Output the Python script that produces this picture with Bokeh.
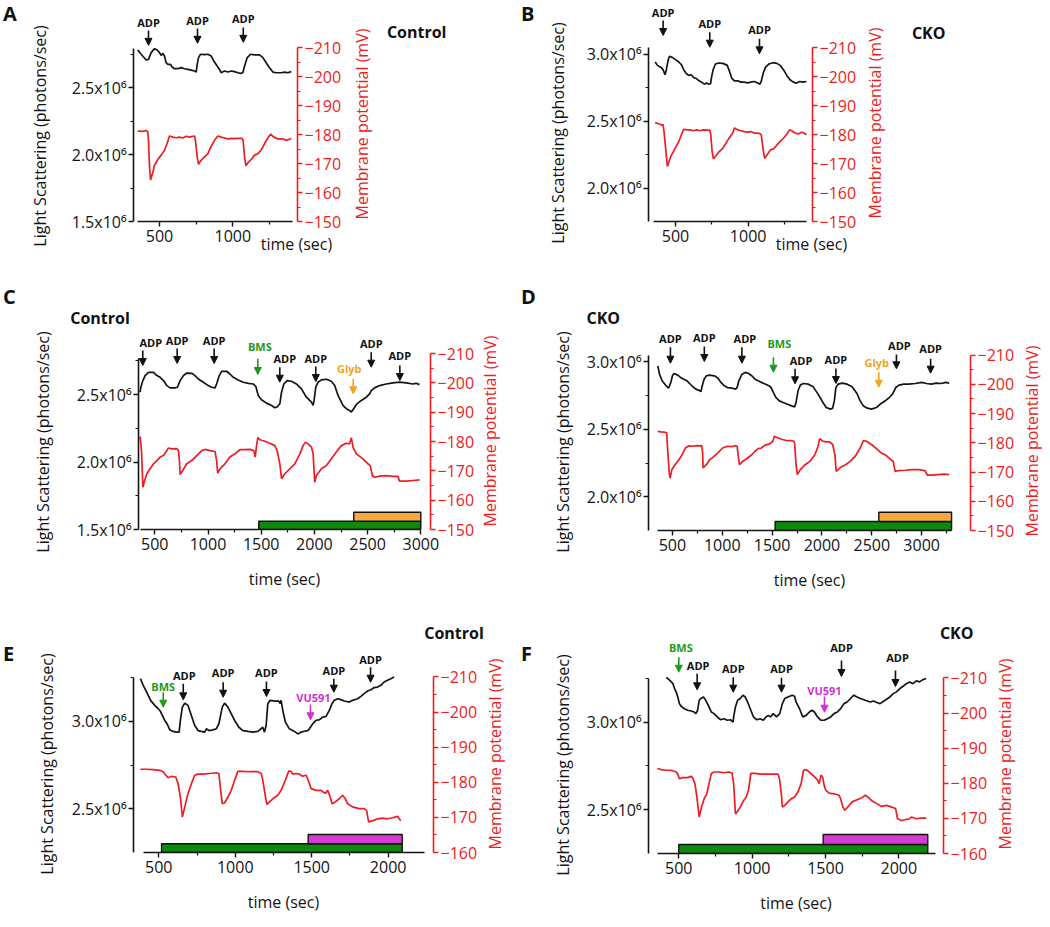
import math
from bokeh.plotting import figure
from bokeh.models import Range1d, LinearAxis, FixedTicker, Label, Arrow, NormalHead, CustomJSTickFormatter, Div
from bokeh.layouts import column, row
from bokeh.embed import file_html
from bokeh.resources import INLINE

FONT = "Open Sans"
BLACK = "#141414"
RED = "#ee1d23"
EVT_COLORS = {"ADP": "#111111", "BMS": "#1d9a1d", "Glyb": "#f4a41c", "VU591": "#d42fd2"}
BAR_COLORS = {"BMS": "#0b8a0b", "Glyb": "#f8aa3e", "VU591": "#d43cd2"}

# ---------------- data: light scattering (x10^6 photons/sec) and membrane potential (mV) ----------------
# Panel A (Control)
a_ls_t = [352,375,409,425,443,466,484,500,511,523,534,545,557,575,584,602,625,648,670,693,716,739,750,757,766,780,807,830,852,870,893,909,920,943,966,989,1011,1034,1052,1068,1080,1098,1121,1148,1182,1205,1227,1250,1273,1295,1330,1352,1375,1398]
a_ls = [2.782,2.750,2.707,2.712,2.762,2.792,2.782,2.762,2.742,2.757,2.737,2.687,2.675,2.675,2.657,2.642,2.642,2.650,2.642,2.637,2.632,2.625,2.617,2.675,2.725,2.750,2.747,2.750,2.737,2.700,2.662,2.637,2.612,2.625,2.617,2.625,2.620,2.612,2.607,2.612,2.662,2.725,2.750,2.745,2.745,2.725,2.687,2.650,2.617,2.612,2.612,2.617,2.612,2.620]
a_mv_t = [352,386,409,420,425,432,439,455,466,489,511,534,552,568,591,614,636,659,682,705,727,739,745,757,766,780,807,830,852,875,898,920,943,966,989,1011,1034,1061,1070,1080,1089,1102,1125,1148,1171,1193,1216,1239,1257,1280,1307,1341,1364,1386,1398]
a_mv = [-181.2,-181.1,-181.4,-180.9,-178.0,-168.9,-164.3,-167.1,-169.4,-171.4,-172.9,-174.6,-176.9,-179.5,-179.1,-178.9,-179.1,-178.8,-179.4,-179.1,-179.4,-179.5,-178.0,-172.3,-169.7,-170.9,-172.3,-173.4,-175.9,-178.0,-179.5,-179.1,-178.8,-178.5,-178.7,-178.6,-178.7,-178.7,-178.0,-172.3,-169.2,-170.2,-171.4,-172.9,-173.4,-174.6,-176.9,-178.9,-180.1,-179.1,-178.5,-178.5,-178.0,-178.4,-178.6]
a_evt = ["ADP", "ADP", "ADP"]
a_evt_t = [425, 759, 1071]

# Panel B (CKO)
b_ls_t = [360,376,399,414,428,437,450,459,477,500,523,541,556,572,590,608,624,646,662,680,698,714,730,741,748,759,775,797,827,856,872,887,905,928,950,973,995,1018,1040,1063,1081,1090,1104,1119,1142,1171,1198,1221,1243,1266,1288,1311,1333,1356,1378,1401]
b_ls = [2.940,2.915,2.900,2.883,2.845,2.883,2.958,2.983,2.975,2.958,2.940,2.920,2.883,2.858,2.840,2.845,2.825,2.815,2.800,2.790,2.775,2.783,2.775,2.778,2.825,2.883,2.925,2.933,2.930,2.915,2.870,2.820,2.800,2.800,2.790,2.790,2.785,2.790,2.795,2.785,2.775,2.795,2.858,2.900,2.925,2.935,2.930,2.915,2.883,2.840,2.808,2.790,2.783,2.795,2.790,2.795]
b_mv_t = [360,387,405,414,421,432,444,455,473,489,500,523,545,556,579,601,624,646,669,691,714,736,743,752,761,775,797,827,849,872,894,905,928,950,973,995,1018,1040,1063,1081,1090,1104,1113,1131,1153,1176,1198,1221,1243,1266,1284,1299,1322,1345,1367,1383,1401]
b_mv = [-184.1,-183.6,-183.3,-183.4,-181.0,-175.3,-169.0,-170.7,-173.0,-174.4,-175.5,-177.6,-180.5,-181.8,-181.6,-181.6,-181.3,-181.6,-181.3,-181.6,-181.5,-181.5,-179.9,-174.1,-171.6,-172.4,-173.9,-175.3,-177.2,-179.0,-180.5,-182.2,-181.6,-181.3,-181.0,-180.8,-181.0,-180.5,-180.5,-180.3,-179.9,-174.7,-171.8,-173.0,-174.7,-175.1,-176.4,-177.6,-178.7,-180.1,-181.6,-181.3,-180.5,-180.2,-180.8,-180.5,-179.9]
b_evt = ["ADP", "ADP", "ADP"]
b_evt_t = [415, 736, 1078]

# Panel C (Control, BMS + Glyb)
c_ls_t = [362,369,388,409,441,488,519,550,581,613,644,691,713,738,769,800,847,878,909,956,1003,1034,1066,1081,1106,1128,1175,1206,1238,1284,1331,1378,1425,1450,1472,1503,1550,1597,1628,1650,1675,1691,1713,1744,1784,1831,1878,1925,1972,1988,1997,2013,2034,2066,2113,2159,2191,2222,2269,2300,2331,2347,2369,2400,2441,2488,2519,2534,2566,2613,2675,2738,2800,2863,2925,2956,2988]
c_ls = [2.517,2.554,2.603,2.640,2.664,2.664,2.640,2.627,2.603,2.566,2.549,2.549,2.554,2.603,2.640,2.659,2.657,2.640,2.615,2.591,2.566,2.554,2.549,2.578,2.640,2.672,2.672,2.652,2.627,2.608,2.591,2.583,2.578,2.559,2.493,2.461,2.436,2.419,2.402,2.407,2.431,2.517,2.578,2.603,2.598,2.578,2.542,2.480,2.444,2.419,2.456,2.554,2.591,2.608,2.613,2.598,2.566,2.493,2.419,2.395,2.382,2.370,2.395,2.431,2.456,2.480,2.505,2.529,2.549,2.566,2.578,2.586,2.591,2.586,2.578,2.583,2.573]
c_mv_t = [362,375,388,400,425,456,488,519,550,581,613,628,659,706,722,731,738,763,800,847,894,941,972,1019,1066,1081,1091,1113,1159,1206,1253,1300,1347,1394,1431,1444,1456,1469,1488,1534,1581,1628,1650,1675,1691,1722,1769,1816,1863,1894,1916,1941,1972,1988,2003,2019,2066,2113,2159,2206,2253,2300,2331,2347,2363,2394,2456,2503,2525,2544,2566,2613,2675,2738,2784,2800,2863,2925,2988]
c_mv = [-181.7,-176.9,-164.4,-166.1,-169.0,-170.7,-172.4,-173.5,-174.7,-175.2,-176.9,-177.8,-177.5,-177.6,-176.9,-173.5,-168.8,-170.1,-172.4,-173.5,-175.2,-176.9,-177.3,-176.9,-176.6,-173.5,-169.2,-170.7,-172.4,-174.7,-175.8,-177.2,-177.2,-177.3,-176.9,-174.7,-178.6,-181.3,-180.6,-180.1,-179.4,-178.6,-176.9,-172.4,-167.3,-169.0,-170.7,-172.4,-175.8,-178.6,-179.8,-179.2,-178.1,-175.8,-166.1,-168.4,-170.7,-171.8,-174.1,-176.4,-178.6,-179.4,-179.2,-181.3,-178.1,-175.8,-174.1,-172.4,-171.8,-168.4,-167.8,-168.2,-168.4,-168.1,-168.1,-166.5,-166.5,-166.7,-166.9]
c_evt = ["ADP", "ADP", "ADP", "BMS", "ADP", "ADP", "Glyb", "ADP", "ADP"]
c_evt_t = [387, 710, 1058, 1468, 1675, 2013, 2365, 2534, 2803]
c_bars = [("BMS", 1477, 3000), ("Glyb", 2370, 3000)]

# Panel D (CKO, BMS + Glyb)
d_ls_t = [354,370,396,429,461,484,500,516,549,581,614,646,695,734,760,786,799,818,841,873,922,955,987,1020,1052,1101,1133,1149,1166,1198,1231,1263,1296,1328,1360,1393,1435,1468,1490,1513,1539,1572,1610,1636,1669,1695,1727,1740,1760,1783,1815,1864,1912,1961,2010,2042,2085,2107,2124,2140,2162,2205,2253,2302,2351,2383,2416,2455,2497,2546,2594,2643,2675,2708,2740,2773,2822,2870,2935,3000,3049,3098,3146,3195,3244,3276]
d_ls = [2.970,2.908,2.859,2.829,2.804,2.847,2.896,2.913,2.903,2.884,2.871,2.859,2.822,2.797,2.790,2.780,2.822,2.871,2.896,2.901,2.896,2.879,2.847,2.822,2.809,2.804,2.797,2.809,2.859,2.908,2.921,2.913,2.896,2.871,2.859,2.847,2.834,2.822,2.809,2.772,2.735,2.710,2.698,2.691,2.681,2.673,2.666,2.698,2.785,2.827,2.839,2.834,2.814,2.760,2.698,2.661,2.649,2.656,2.710,2.809,2.834,2.842,2.834,2.814,2.765,2.710,2.673,2.656,2.649,2.661,2.691,2.715,2.735,2.760,2.809,2.827,2.834,2.834,2.839,2.847,2.839,2.834,2.842,2.839,2.847,2.842]
d_mv_t = [354,386,419,442,451,468,477,494,526,565,597,630,662,695,744,776,792,802,808,841,873,906,955,1003,1052,1101,1133,1149,1159,1172,1198,1247,1296,1328,1360,1393,1425,1474,1507,1523,1555,1604,1653,1701,1718,1727,1740,1753,1783,1831,1880,1929,1961,1977,2010,2042,2075,2107,2130,2143,2188,2237,2286,2334,2383,2416,2448,2497,2546,2594,2643,2692,2714,2734,2773,2838,2903,2968,3033,3059,3098,3163,3228,3276]
d_mv = [-183.9,-183.7,-183.6,-183.4,-178.2,-169.7,-167.9,-170.8,-172.5,-174.2,-175.9,-178.2,-178.9,-178.8,-179.0,-178.9,-179.1,-177.1,-171.4,-172.5,-174.2,-175.0,-176.5,-178.2,-178.8,-178.7,-179.0,-178.8,-175.9,-172.5,-173.4,-174.6,-175.9,-177.1,-178.0,-178.2,-179.1,-179.6,-180.5,-182.2,-181.7,-181.1,-180.7,-180.7,-180.5,-179.4,-172.5,-169.1,-170.8,-172.5,-173.7,-175.9,-178.8,-181.4,-180.5,-180.3,-180.3,-179.4,-175.9,-170.2,-171.6,-172.5,-173.7,-175.4,-178.2,-180.7,-180.5,-179.4,-178.0,-176.5,-175.7,-174.2,-173.7,-170.2,-170.5,-170.6,-170.8,-170.8,-170.5,-168.9,-168.9,-169.1,-169.3,-169.1]
d_evt = ["ADP", "ADP", "ADP", "BMS", "ADP", "ADP", "Glyb", "ADP", "ADP"]
d_evt_t = [480, 820, 1197, 1513, 1730, 2140, 2570, 2747, 3090]
d_bars = [("BMS", 1530, 3300), ("Glyb", 2570, 3300)]

# Panel E (Control, BMS + VU591)
e_ls_t = [380,398,420,446,474,496,507,524,539,554,572,593,615,633,641,654,670,691,713,735,757,778,800,811,828,854,876,893,915,930,952,974,996,1024,1050,1083,1115,1148,1180,1191,1202,1213,1228,1263,1285,1294,1300,1311,1328,1354,1387,1409,1430,1452,1474,1485,1507,1528,1550,1572,1594,1615,1633,1648,1670,1691,1713,1746,1767,1800,1822,1843,1865,1887,1909,1931,1952,1974,1996,2017,2039]
e_ls = [3.245,3.207,3.169,3.121,3.092,3.073,3.063,3.034,3.006,2.987,2.952,2.943,2.939,2.939,3.006,3.082,3.105,3.092,3.034,2.977,2.948,2.943,2.939,2.958,2.948,2.952,2.958,2.987,3.082,3.105,3.082,3.044,3.006,2.967,2.948,2.943,2.939,2.943,2.967,2.939,2.977,3.102,3.121,3.117,3.117,3.102,3.121,3.063,2.996,2.958,2.943,2.929,2.939,2.944,2.948,2.958,2.987,3.006,3.010,3.025,3.029,3.063,3.102,3.121,3.130,3.125,3.117,3.111,3.121,3.130,3.144,3.159,3.174,3.182,3.194,3.197,3.207,3.226,3.236,3.245,3.255]
e_mv_t = [380,420,463,507,528,546,561,583,611,626,641,654,670,691,713,735,757,789,833,876,893,902,915,930,952,974,996,1017,1050,1093,1148,1170,1180,1198,1207,1224,1246,1278,1300,1328,1350,1365,1376,1398,1420,1441,1463,1474,1496,1528,1561,1589,1604,1620,1633,1654,1680,1702,1720,1735,1767,1811,1843,1859,1872,1898,1930,1963,1996,2028,2061,2072,2083]
e_mv = [-183.7,-183.7,-183.6,-183.4,-183.0,-182.0,-181.3,-181.7,-181.5,-179.6,-175.8,-170.1,-173.0,-176.8,-179.6,-182.0,-182.3,-182.3,-182.5,-182.7,-182.5,-178.7,-173.9,-174.1,-175.8,-177.7,-180.6,-183.1,-183.1,-183.0,-183.0,-182.5,-180.6,-175.8,-173.7,-174.4,-175.3,-176.3,-177.7,-180.6,-183.2,-183.1,-182.3,-182.5,-182.3,-181.7,-182.0,-181.0,-178.2,-177.7,-177.7,-176.8,-177.7,-176.0,-173.9,-174.4,-175.3,-176.3,-175.3,-173.9,-173.0,-172.5,-172.5,-172.0,-168.7,-169.0,-169.6,-169.8,-169.6,-169.9,-170.3,-169.6,-169.1]
e_evt = ["BMS", "ADP", "ADP", "ADP", "VU591", "ADP", "ADP"]
e_evt_t = [529, 660, 921, 1204, 1492, 1645, 1885]
e_bars = [("BMS", 518, 2092), ("VU591", 1477, 2092)]

# Panel F (CKO, BMS + VU591)
f_ls_t = [415,437,460,471,482,493,504,516,538,561,583,605,617,628,639,650,668,684,706,722,740,762,785,807,830,852,870,874,886,901,919,937,953,969,987,1009,1031,1054,1076,1094,1110,1126,1143,1166,1188,1206,1222,1244,1273,1289,1300,1323,1345,1368,1390,1408,1424,1446,1469,1491,1513,1536,1558,1581,1603,1626,1648,1670,1693,1715,1738,1771,1805,1827,1850,1872,1906,1939,1962,1984,2007,2029,2051,2074,2096,2119,2141,2164,2186]
f_ls = [3.254,3.239,3.219,3.191,3.172,3.143,3.105,3.090,3.076,3.067,3.063,3.057,3.048,3.067,3.124,3.134,3.143,3.124,3.086,3.057,3.048,3.029,3.013,3.019,3.010,3.013,3.000,3.029,3.086,3.124,3.134,3.153,3.143,3.114,3.076,3.029,3.013,3.019,3.010,3.029,3.038,3.029,3.048,3.029,3.048,3.105,3.134,3.143,3.153,3.147,3.114,3.076,3.029,3.038,3.057,3.067,3.057,3.029,3.010,3.010,3.019,3.029,3.048,3.057,3.076,3.105,3.114,3.134,3.153,3.143,3.134,3.124,3.114,3.120,3.111,3.105,3.124,3.143,3.162,3.172,3.191,3.204,3.219,3.229,3.219,3.235,3.229,3.242,3.248]
f_mv_t = [354,381,415,448,482,493,504,527,561,583,594,610,623,639,655,673,691,706,722,740,774,807,841,863,874,886,897,919,942,960,975,991,1020,1054,1099,1143,1177,1188,1200,1206,1222,1244,1267,1289,1312,1334,1350,1368,1390,1413,1430,1446,1457,1469,1480,1491,1502,1525,1558,1592,1603,1619,1632,1655,1682,1715,1749,1771,1794,1816,1850,1883,1917,1951,1978,1991,2018,2040,2074,2085,2119,2152,2186]
f_mv = [-184.2,-183.9,-183.7,-183.7,-183.2,-182.6,-181.3,-181.6,-181.6,-182.0,-181.6,-179.9,-176.1,-170.4,-173.2,-175.6,-177.0,-179.9,-182.8,-183.2,-183.2,-183.0,-183.2,-182.9,-179.9,-171.3,-171.8,-173.2,-175.1,-176.1,-178.0,-182.8,-182.8,-182.6,-182.6,-182.6,-182.6,-180.9,-176.6,-173.2,-173.7,-174.7,-175.6,-176.1,-177.5,-179.9,-183.7,-183.9,-183.2,-182.3,-181.6,-180.9,-179.9,-182.3,-181.8,-179.4,-178.0,-177.2,-177.0,-176.6,-175.6,-173.2,-172.3,-173.4,-174.7,-175.3,-175.9,-176.6,-175.9,-175.0,-174.2,-173.4,-173.7,-173.2,-172.8,-169.9,-169.4,-169.6,-169.9,-170.4,-169.9,-170.1,-170.1]
f_evt = ["BMS", "ADP", "ADP", "ADP", "VU591", "ADP", "ADP"]
f_evt_t = [500, 625, 871, 1200, 1493, 1609, 1977]
f_bars = [("BMS", 500, 2197), ("VU591", 1484, 2197)]

MV_T10 = list(range(-210, -149, 10))
MV_M10 = list(range(-205, -154, 10))
MV_T5 = list(range(-210, -159, 10))
MV_M5 = list(range(-205, -164, 10))

LS_TITLE = "Light Scattering (photons/sec)"
MV_TITLE = "Membrane potential (mV)"

# ---------------- layout (page pixels, page origin at top-left) ----------------
PANELS = {
    "A": dict(box=(60, 0, 290, 283), frame=(133, 297, 4, 222),
              x0=(159, 500), xpp=0.1467, ls0=1.5, lspp=134.4, mv0=-150, mvpp=2.912,
              xb=(350, 1410), yb=(1.5, 2.79), mb=(-210, -150),
              xt=[500, 1000], xm=[750, 1250], yt=[1.5, 2.0, 2.5], ym=[1.75, 2.25, 2.75], mt=MV_T10, mm=MV_M10,
              ls=(a_ls_t, a_ls), mv=(a_mv_t, a_mv), evt=a_evt, evt_t=a_evt_t,
              evt_ty=[21.7, 20, 18.3], evt_ay=[(30, 45), (28, 43), (27, 42)], evt_dx=[0, 0, 0],
              bars=[], bar_y=[], side_time=True),
    "B": dict(box=(575, 0, 287, 283), frame=(648, 812, 4, 221),
              x0=(675, 500), xpp=0.1453, ls0=1.75, lspp=134.0, mv0=-150, mvpp=2.9,
              xb=(350, 1400), yb=(1.75, 3.045), mb=(-210, -150),
              xt=[500, 1000], xm=[750, 1250], yt=[2.0, 2.5, 3.0], ym=[2.25, 2.75], mt=MV_T10, mm=MV_M10,
              ls=(b_ls_t, b_ls), mv=(b_mv_t, b_mv), evt=b_evt, evt_t=b_evt_t,
              evt_ty=[11.7, 22.7, 29.3], evt_ay=[(20, 35), (31.7, 46.7), (38.3, 53.3)], evt_dx=[0, 0, 0],
              bars=[], bar_y=[], side_time=True),
    "C": dict(box=(62, 329, 416, 276), frame=(138, 430, 332, 529),
              x0=(154.3, 500), xpp=0.1064, ls0=1.5, lspp=135.0, mv0=-150, mvpp=2.933,
              xb=(365, 3000), yb=(1.5, 2.77), mb=(-210, -150),
              xt=[500, 1000, 1500, 2000, 2500, 3000], xm=[750, 1250, 1750, 2250, 2750],
              yt=[1.5, 2.0, 2.5], ym=[1.75, 2.25, 2.75], mt=MV_T10, mm=MV_M10,
              ls=(c_ls_t, c_ls), mv=(c_mv_t, c_mv), evt=c_evt, evt_t=c_evt_t,
              evt_ty=[341.7, 340, 340, 346, 358.3, 358, 368.3, 342.7, 355],
              evt_ay=[(350, 365), (348, 363), (348, 363), (358.3, 374), (366.7, 381.7), (366, 381), (378.3, 393.3), (351.7, 366.7), (365, 380)],
              evt_dx=[8, 0, 0, 2, 5, 0, -4, 0, 0],
              bars=c_bars, bar_y=[(520.7, 529), (511.7, 520.7)], side_time=False),
    "D": dict(box=(575, 329, 442, 276), frame=(648, 971, 332, 530),
              x0=(672, 500), xpp=0.100, ls0=1.75, lspp=135.0, mv0=-150, mvpp=2.925,
              xb=(350, 3300), yb=(1.75, 3.045), mb=(-210, -150),
              xt=[500, 1000, 1500, 2000, 2500, 3000], xm=[750, 1250, 1750, 2250, 2750, 3250],
              yt=[2.0, 2.5, 3.0], ym=[2.25, 2.75], mt=MV_T10, mm=MV_M10,
              ls=(d_ls_t, d_ls), mv=(d_mv_t, d_mv), evt=d_evt, evt_t=d_evt_t,
              evt_ty=[338.3, 337.3, 338.3, 343.3, 360, 359.3, 361.7, 345, 348.3],
              evt_ay=[(346.7, 362.7), (346, 361), (346.7, 362.7), (356.7, 371.7), (368.3, 383.3), (368, 383), (371.7, 386.7), (354, 368.3), (358.3, 372.7)],
              evt_dx=[0, 0, 3, 6, 6, 0, -2, 3, 0],
              bars=d_bars, bar_y=[(521, 530), (511.7, 521)], side_time=False),
    "E": dict(box=(60, 640, 420, 285), frame=(133, 433, 641, 852),
              x0=(158.3, 500), xpp=0.1529, ls0=2.25, lspp=174.7, mv0=-160, mvpp=3.512,
              xb=(398, 2237), yb=(2.25, 3.25), mb=(-210, -160),
              xt=[500, 1000, 1500, 2000], xm=[750, 1250, 1750], yt=[2.5, 3.0], ym=[2.75, 3.25], mt=MV_T5, mm=MV_M5,
              ls=(e_ls_t, e_ls), mv=(e_mv_t, e_mv), evt=e_evt, evt_t=e_evt_t,
              evt_ty=[686, 675, 672.3, 671.7, 697.3, 670, 659.3],
              evt_ay=[(691.7, 706.7), (683.3, 699.3), (681.7, 696.7), (681, 696), (704, 719.3), (678.3, 691.7), (666.7, 681.7)],
              evt_dx=[0, 1, 0, 0, 3, 0, 0],
              bars=e_bars, bar_y=[(843.3, 852), (834, 843.3)], side_time=False),
    "F": dict(box=(575, 640, 417, 285), frame=(648, 943, 641, 853),
              x0=(678.3, 500), xpp=0.1467, ls0=2.25, lspp=175.3, mv0=-160, mvpp=3.512,
              xb=(355, 2250), yb=(2.25, 3.25), mb=(-210, -160),
              xt=[500, 1000, 1500, 2000], xm=[750, 1250, 1750], yt=[2.5, 3.0], ym=[2.75, 3.25], mt=MV_T5, mm=MV_M5,
              ls=(f_ls_t, f_ls), mv=(f_mv_t, f_mv), evt=f_evt, evt_t=f_evt_t,
              evt_ty=[647.3, 665, 668.3, 668.3, 690, 647.3, 657.3],
              evt_ay=[(656.7, 671.7), (673.3, 689.3), (676.7, 691.7), (677.3, 691.7), (696, 711.7), (660, 676), (670, 686)],
              evt_dx=[2, 1, 0, 0, 0, 0, 2],
              bars=f_bars, bar_y=[(844, 853), (834, 844)], side_time=False),
}


def style_axis(ax, color, major, minor, bounds):
    ax.ticker = FixedTicker(ticks=major, minor_ticks=minor)
    ax.bounds = bounds
    ax.axis_line_color = color
    ax.axis_line_width = 1.6
    ax.major_tick_line_color = color
    ax.major_tick_line_width = 1.4
    ax.major_tick_in = 0
    ax.major_tick_out = 5
    ax.minor_tick_line_color = color
    ax.minor_tick_line_width = 1.2
    ax.minor_tick_in = 0
    ax.minor_tick_out = 3
    ax.major_label_text_color = color
    ax.major_label_text_font = FONT
    ax.major_label_text_font_size = "16px"
    ax.major_label_standoff = 2
    ax.axis_label_text_font = FONT
    ax.axis_label_text_font_size = "16px"
    ax.axis_label_text_font_style = "normal"
    ax.axis_label_text_color = color


def make_panel(s):
    bx, by, bw, bh = s["box"]
    fl, fr, ft, fb = s["frame"]
    X = lambda px: s["x0"][1] + (px - s["x0"][0]) / s["xpp"]
    Y = lambda py: s["ls0"] + (fb - py) / s["lspp"]
    M = lambda py: s["mv0"] - (fb - py) / s["mvpp"]

    p = figure(width=bw, height=bh, x_range=Range1d(X(fl), X(fr)), y_range=Range1d(s["ls0"], Y(ft)),
               output_backend="svg", toolbar_location=None,
               min_border_left=fl - bx, min_border_right=bx + bw - fr,
               min_border_top=ft - by, min_border_bottom=by + bh - fb)
    p.title.visible = False
    p.extra_y_ranges = {"mv": Range1d(start=s["mv0"], end=M(ft))}
    p.outline_line_color = None
    p.xgrid.visible = False
    p.ygrid.visible = False
    p.background_fill_color = "white"
    p.border_fill_color = "white"

    xa = p.xaxis[0]
    style_axis(xa, BLACK, s["xt"], s["xm"], s["xb"])
    xa.major_label_standoff = 3
    if not s["side_time"]:
        xa.axis_label = "time (sec)"
        xa.axis_label_standoff = 15
    ya = p.yaxis[0]
    style_axis(ya, BLACK, s["yt"], s["ym"], s["yb"])
    ya.formatter = CustomJSTickFormatter(code="return tick.toFixed(1) + 'x10\\u2076';")
    ra = LinearAxis(y_range_name="mv")
    style_axis(ra, RED, s["mt"], s["mm"], s["mb"])
    p.add_layout(ra, "right")

    if s["side_time"]:
        # "time (sec)" sits beside the tick labels, at the right end of the x axis
        ta = LinearAxis(ticker=FixedTicker(ticks=[X(fr - 1)]),
                        formatter=CustomJSTickFormatter(code="return 'time (sec)';"))
        ta.axis_line_color = None
        ta.major_tick_line_color = None
        ta.minor_tick_line_color = None
        ta.major_tick_out = 0
        ta.major_tick_in = 0
        ta.major_label_standoff = -12
        ta.major_label_text_font = FONT
        ta.major_label_text_font_size = "16px"
        ta.major_label_text_color = BLACK
        p.add_layout(ta, "below")

    for (name, t0, t1), (ytop, ybot) in zip(s["bars"], s["bar_y"]):
        p.quad(left=[t0], right=[t1], bottom=[Y(ybot)], top=[Y(ytop)],
               fill_color=BAR_COLORS[name], line_color="#111111", line_width=1.4)

    p.line(s["ls"][0], s["ls"][1], line_color=BLACK, line_width=1.7)
    p.line(s["mv"][0], s["mv"][1], line_color=RED, line_width=1.7, y_range_name="mv")

    for lab, t, ty, (a0, a1), dx in zip(s["evt"], s["evt_t"], s["evt_ty"], s["evt_ay"], s["evt_dx"]):
        c = EVT_COLORS[lab]
        p.add_layout(Arrow(end=NormalHead(size=7, fill_color=c, line_color=c, line_width=1),
                           x_start=t, y_start=Y(a0), x_end=t, y_end=Y(a1),
                           line_color=c, line_width=1.6))
        p.add_layout(Label(x=t + dx / s["xpp"], y=Y(ty), text=lab, text_align="center", text_baseline="middle",
                           text_font=FONT, text_font_size="11px", text_font_style="bold", text_color=c))
    return p


STYLES = {
    "letter": ("20px", "bold", "#111111", False, False),
    "group": ("16px", "bold", "#111111", True, False),
    "ltitle": ("16px", "normal", "#111111", True, True),
    "rtitle": ("16px", "normal", RED, True, True),
}


def text_box(w, h, items):
    spans = []
    for text, x, y, kind in items:
        size, weight, color, centered, rotated = STYLES[kind]
        tf = "translate(-50%,-50%)" if centered else "translate(0,-50%)"
        if rotated:
            tf += " rotate(-90deg)"
        spans.append(
            f'<span style="position:absolute;left:{x}px;top:{y}px;transform:{tf};white-space:nowrap;'
            f"font-family:'{FONT}';font-size:{size};font-weight:{weight};color:{color};line-height:1.15;\">{text}</span>")
    html = f'<div style="position:relative;width:{w}px;height:{h}px;overflow:visible;">' + "".join(spans) + "</div>"
    return Div(text=html, width=w, height=h, margin=0)


pA, pB, pC, pD, pE, pF = (make_panel(PANELS[k]) for k in "ABCDEF")

row1 = row(text_box(60, 283, [("A", 3, 13, "letter"), (LS_TITLE, 40, 136, "ltitle")]), pA,
           text_box(170, 283, [(MV_TITLE, 11.7, 124, "rtitle"), ("Control", 66.7, 32.3, "group")]),
           text_box(55, 283, [("B", 1, 13, "letter"), (LS_TITLE, 38.3, 133, "ltitle")]), pB,
           text_box(183, 283, [(MV_TITLE, 13, 123, "rtitle"), ("CKO", 66.7, 32.7, "group")]))

row2 = row(column(text_box(520, 46, [("C", 3, 13, "letter"), ("Control", 100, 35.3, "group")]),
                  row(text_box(62, 276, [(LS_TITLE, 43.3, 113, "ltitle")]), pC,
                      text_box(42, 276, [(MV_TITLE, 12, 102, "rtitle")]))),
           column(text_box(525, 46, [("D", 1, 13, "letter"), ("CKO", 83.3, 35.3, "group")]),
                  row(text_box(55, 276, [(LS_TITLE, 43.3, 113, "ltitle")]), pD,
                      text_box(28, 276, [(MV_TITLE, 14.7, 112, "rtitle")]))))

row3 = row(text_box(60, 320, [("E", 3, 48, "letter"), (LS_TITLE, 46.7, 159, "ltitle")]),
           column(text_box(460, 35, [("Control", 394, 28, "group")]),
                  row(pE, text_box(40, 285, [(MV_TITLE, 15, 114, "rtitle")]))),
           text_box(55, 320, [("F", 1, 48, "letter"), (LS_TITLE, 43.3, 160, "ltitle")]),
           column(text_box(470, 35, [("CKO", 381.7, 28, "group")]),
                  row(pF, text_box(53, 285, [(MV_TITLE, 13, 114, "rtitle")]))))

layout = column(row1, row2, row3)

with open("out.html", "w", encoding="utf-8") as fh:
    fh.write(file_html(layout, INLINE))
